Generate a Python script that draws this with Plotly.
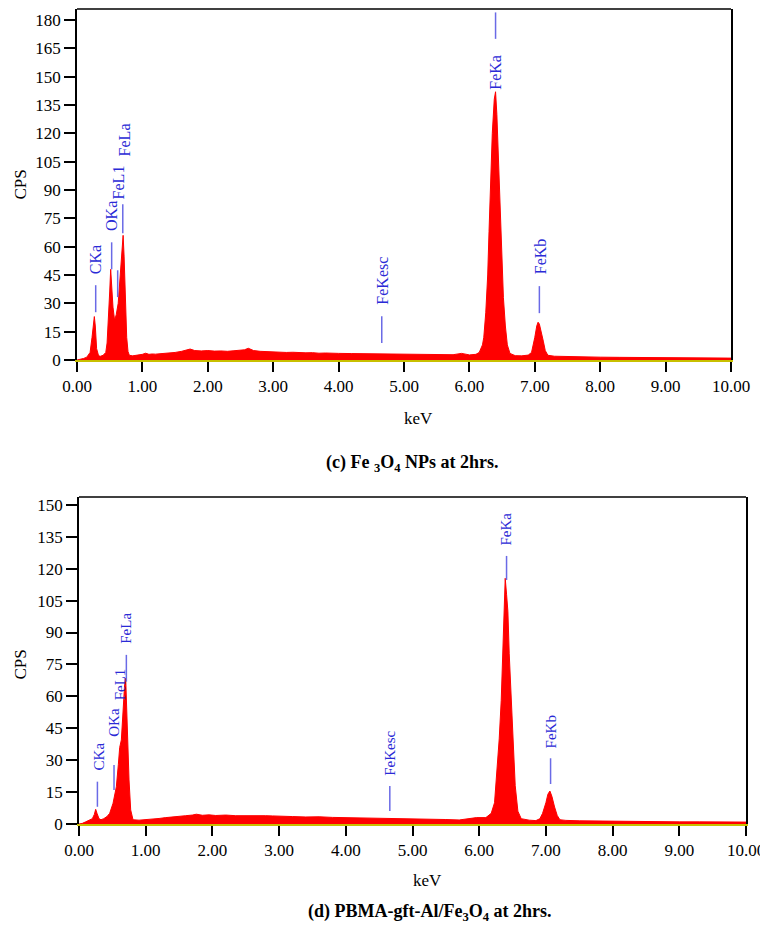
"""
EDS spectra of Fe3O4 NPs and PBMA-gft-Al/Fe3O4, two stacked panels.
"""

import plotly.graph_objects as go

# ---- panel (c): Fe3O4 NPs at 2hrs ----
kev_c = [
    0.00, 0.05, 0.10, 0.15, 0.20, 0.23, 0.25, 0.265, 0.28, 0.30, 0.33, 0.36, 0.40,
    0.44, 0.46, 0.48, 0.50, 0.515, 0.53, 0.55, 0.575, 0.60, 0.63, 0.66, 0.68, 0.705,
    0.72, 0.74, 0.76, 0.78, 0.80, 0.85, 0.90, 0.95, 1.00, 1.05, 1.10, 1.15, 1.20,
    1.30, 1.40, 1.50, 1.60, 1.65, 1.73, 1.80, 1.90, 2.00, 2.10, 2.20, 2.30, 2.40,
    2.50, 2.56, 2.62, 2.70, 2.80, 2.90, 3.00, 3.10, 3.20, 3.30, 3.40, 3.50, 3.60,
    3.70, 3.80, 3.90, 4.00, 4.20, 4.40, 4.60, 4.80, 5.00, 5.20, 5.40, 5.60, 5.75,
    5.88, 6.00, 6.10, 6.15, 6.20, 6.22, 6.25, 6.28, 6.30, 6.33, 6.35, 6.38, 6.40,
    6.42, 6.44, 6.46, 6.48, 6.50, 6.52, 6.55, 6.58, 6.62, 6.70, 6.80, 6.90, 6.95,
    6.98, 7.00, 7.03, 7.05, 7.07, 7.10, 7.13, 7.16, 7.20, 7.30, 7.50, 7.70, 8.00,
    8.30, 8.60, 9.00, 9.30, 9.60, 10.00,
]
cps_c = [
    0.0, 0.3, 0.8, 1.5, 4.0, 12.0, 20.0, 23.0, 18.0, 6.0, 2.2, 2.0, 2.5,
    4.0, 9.0, 20.0, 36.0, 48.0, 40.0, 28.0, 21.0, 24.0, 30.0, 45.0, 58.0, 66.0,
    55.0, 30.0, 12.0, 4.5, 2.5, 2.2, 2.4, 2.6, 3.0, 3.6, 3.0, 3.2, 3.1,
    3.4, 3.6, 4.0, 4.6, 5.0, 5.8, 5.0, 4.8, 5.0, 4.7, 4.8, 4.6, 4.9,
    5.0, 5.4, 6.2, 5.0, 4.6, 4.4, 4.5, 4.2, 4.0, 4.1, 3.9, 3.8, 3.9,
    3.6, 3.7, 3.5, 3.5, 3.4, 3.3, 3.3, 3.0, 2.9, 2.8, 2.7, 2.6, 2.8,
    3.5, 2.7, 3.0, 4.0, 8.0, 12.0, 25.0, 45.0, 68.0, 100.0, 120.0, 138.0, 142.0,
    130.0, 112.0, 88.0, 68.0, 48.0, 33.0, 18.0, 8.0, 3.5, 2.3, 2.2, 2.6, 4.0,
    8.0, 12.0, 18.0, 20.0, 19.0, 15.0, 10.0, 5.0, 2.5, 2.0, 1.8, 1.7, 1.5,
    1.4, 1.3, 1.2, 1.1, 1.1, 1.0,
]

# ---- panel (d): PBMA-gft-Al/Fe3O4 at 2hrs ----
kev_d = [
    0.00, 0.05, 0.10, 0.15, 0.20, 0.23, 0.25, 0.27, 0.30, 0.33, 0.37, 0.42, 0.46,
    0.51, 0.56, 0.59, 0.61, 0.635, 0.66, 0.685, 0.70, 0.72, 0.75, 0.775, 0.81,
    0.90, 1.00, 1.10, 1.20, 1.30, 1.40, 1.50, 1.60, 1.70, 1.76, 1.85, 1.95, 2.05,
    2.20, 2.35, 2.50, 2.65, 2.80, 2.90, 3.00, 3.20, 3.40, 3.60, 3.80, 4.00, 4.20,
    4.40, 4.60, 4.80, 4.90, 5.10, 5.30, 5.50, 5.70, 5.85, 5.96, 6.10, 6.18, 6.23,
    6.27, 6.30, 6.33, 6.36, 6.37, 6.39, 6.41, 6.43, 6.45, 6.48, 6.51, 6.54, 6.58,
    6.63, 6.75, 6.85, 6.91, 6.95, 7.00, 7.03, 7.06, 7.09, 7.13, 7.17, 7.21, 7.30,
    7.50, 7.70, 8.00, 8.30, 8.60, 9.00, 9.30, 9.60, 10.00,
]
cps_d = [
    0.0, 0.3, 1.0, 1.6, 2.5, 4.5, 6.9, 5.0, 2.5, 2.0, 2.5, 3.5, 5.0,
    9.7, 17.5, 28.0, 36.0, 39.5, 55.0, 66.0, 68.5, 47.0, 20.7, 6.6, 2.0,
    1.8, 2.0, 2.3, 2.6, 3.0, 3.2, 3.6, 3.9, 4.2, 4.6, 4.1, 4.3, 4.0,
    4.2, 3.9, 4.0, 3.8, 3.9, 3.8, 3.6, 3.5, 3.3, 3.4, 3.1, 3.0, 3.0,
    2.8, 2.9, 2.7, 2.6, 2.5, 2.3, 2.1, 1.9, 2.4, 3.0, 3.0, 5.0, 10.0,
    25.0, 40.0, 58.0, 90.0, 100.0, 115.5, 108.0, 100.0, 80.0, 58.0, 35.0, 18.0, 6.0,
    2.5, 1.8, 1.6, 2.5, 5.0, 10.0, 14.0, 15.5, 13.0, 8.0, 4.0, 2.0, 1.7,
    1.5, 1.4, 1.3, 1.2, 1.1, 1.0, 1.0, 0.9, 0.9,
]

# peak labels: name, label-centre keV, text bottom CPS, marker line (keV, y0, y1)
labels_c = ["CKa", "OKa", "FeL1", "FeLa", "FeKesc", "FeKa", "FeKb"]
text_x_c = [0.283, 0.530, 0.627, 0.719, 4.67, 6.40, 7.08]
text_y_c = [44.9, 67.6, 84.5, 107.0, 29.0, 142.6, 44.9]
line_x_c = [0.286, 0.530, 0.622, 0.700, 4.66, 6.40, 7.07]
line_y0_c = [25.3, 48.0, 33.3, 67.1, 9.0, 170.0, 24.8]
line_y1_c = [39.6, 62.3, 47.5, 82.4, 23.2, 184.0, 39.1]

labels_d = ["CKa", "OKa", "FeL1", "FeLa", "FeKesc", "FeKa", "FeKb"]
text_x_d = [0.296, 0.525, 0.61, 0.71, 4.67, 6.41, 7.07]
text_y_d = [24.6, 40.3, 57.5, 84.2, 22.2, 130.4, 35.1]
line_x_d = [0.276, 0.525, 0.71, 4.66, 6.41, 7.07]
line_y0_d = [8.1, 16.0, 66.9, 6.1, 114.7, 18.8]
line_y1_d = [19.9, 27.7, 79.5, 17.9, 126.0, 30.9]

# page body has an 8px margin, so the figure is drawn 8px smaller and
# positions below are given in window pixels and shifted back
OFF = 8
W, H = 768 - OFF, 932 - OFF
SERIF = "Liberation Serif, Times New Roman, serif"
LABEL_BLUE = "#2a2ad6"
LINE_BLUE = "#6a6ae6"
BASE_OLIVE = "#c8c000"


def px_x(p):
    return (p - OFF) / W


def px_y(p):
    return 1 - (p - OFF) / H


fig = go.Figure()

fig.add_trace(go.Scatter(
    x=kev_c, y=cps_c, mode="lines", fill="tozeroy",
    line=dict(color="#ff0000", width=1), fillcolor="#ff0000",
    xaxis="x", yaxis="y", showlegend=False, hoverinfo="x+y",
))
fig.add_trace(go.Scatter(
    x=kev_d, y=cps_d, mode="lines", fill="tozeroy",
    line=dict(color="#ff0000", width=1), fillcolor="#ff0000",
    xaxis="x2", yaxis="y2", showlegend=False, hoverinfo="x+y",
))

shapes = []
annotations = []


def add_labels(xref, yref, names, tx, ty, lx, ly0, ly1, size):
    for n, x, y in zip(names, tx, ty):
        annotations.append(dict(
            text=n, x=x, y=y, xref=xref, yref=yref, textangle=-90,
            xanchor="center", yanchor="bottom", showarrow=False,
            borderpad=0, font=dict(family=SERIF, size=size, color=LABEL_BLUE),
        ))
    for x, y0, y1 in zip(lx, ly0, ly1):
        shapes.append(dict(
            type="line", xref=xref, yref=yref, x0=x, x1=x, y0=y0, y1=y1,
            line=dict(color=LINE_BLUE, width=1.5),
        ))


add_labels("x", "y", labels_c, text_x_c, text_y_c, line_x_c, line_y0_c, line_y1_c, 16)
add_labels("x2", "y2", labels_d, text_x_d, text_y_d, line_x_d, line_y0_d, line_y1_d, 15)

# top edge of each frame
for xr, yr in [("x", "y"), ("x2", "y2")]:
    shapes.append(dict(
        type="line", xref=f"{xr} domain", yref=f"{yr} domain",
        x0=0, x1=1, y0=1, y1=1, line=dict(color="black", width=1.5),
    ))

# axis titles
for text, x, y, ang, xa in [
    ("CPS", 8, 185, -90, "left"),
    ("keV", 418, 418, 0, "center"),
    ("CPS", 8, 665, -90, "left"),
    ("keV", 427, 880, 0, "center"),
]:
    annotations.append(dict(
        text=text, x=px_x(x), y=px_y(y), xref="paper", yref="paper",
        textangle=ang, showarrow=False, xanchor=xa, yanchor="middle",
        font=dict(family=SERIF, size=17, color="black"),
    ))

annotations.append(dict(
    text="<b>(c) Fe <sub>3</sub>O<sub>4</sub> NPs at 2hrs.</b>",
    x=px_x(412), y=px_y(463), xref="paper", yref="paper", showarrow=False,
    xanchor="center", yanchor="middle", font=dict(family=SERIF, size=18, color="black"),
))
annotations.append(dict(
    text="<b>(d) PBMA-gft-Al/Fe<sub>3</sub>O<sub>4</sub> at 2hrs.</b>",
    x=px_x(430), y=px_y(912), xref="paper", yref="paper", showarrow=False,
    xanchor="center", yanchor="middle", font=dict(family=SERIF, size=18, color="black"),
))

x_common = dict(
    range=[0, 10], tickvals=list(range(11)), tickformat=".2f",
    ticks="outside", ticklen=10, tickwidth=1.5, tickcolor="black",
    showline=True, linecolor=BASE_OLIVE, linewidth=2,
    showgrid=False, zeroline=False, automargin=False,
    tickfont=dict(family=SERIF, size=17, color="black"),
)
y_common = dict(
    dtick=15, tick0=0, ticks="outside", ticklen=11, tickwidth=1.5, tickcolor="black",
    showline=True, linecolor="black", linewidth=1.5, mirror=True,
    showgrid=False, zeroline=False, automargin=False,
    tickfont=dict(family=SERIF, size=17, color="black"),
)

# top panel: 0 at y=360, 1.894 px per CPS; its frame starts at the top of the figure
top_max = (360 - OFF) / 1.894

fig.update_layout(
    width=W, height=H,
    margin=dict(l=0, r=0, t=0, b=0, autoexpand=False),
    paper_bgcolor="white", plot_bgcolor="white",
    xaxis=dict(domain=[px_x(77), px_x(731)], anchor="y", **x_common),
    yaxis=dict(domain=[px_y(360), 0.999], anchor="x", range=[0, top_max], **y_common),
    xaxis2=dict(domain=[px_x(79), px_x(746)], anchor="y2", **x_common),
    yaxis2=dict(domain=[px_y(824), px_y(497)], anchor="x2", range=[0, 153.7], **y_common),
    shapes=shapes,
    annotations=annotations,
)

fig.write_html("out.html")
